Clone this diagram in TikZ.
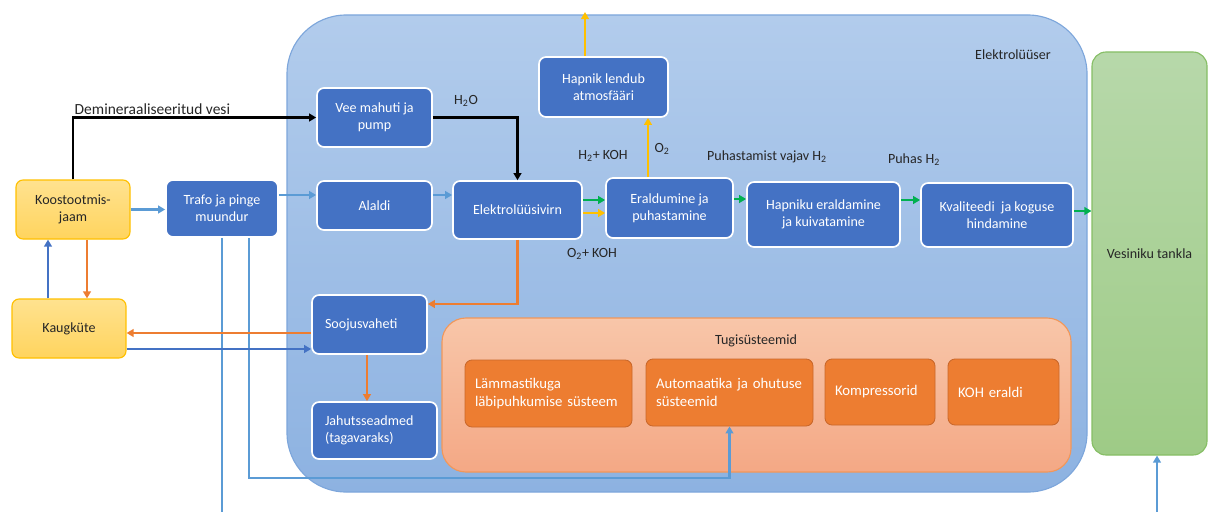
\documentclass[tikz,border=0pt]{standalone}
\usepackage{fontspec}
\setmainfont{Carlito}
\usetikzlibrary{positioning,calc,arrows.meta}

\definecolor{boxblue}{HTML}{4472C4}
\definecolor{lineblue}{HTML}{5B9BD5}
\definecolor{darkblue}{HTML}{4472C4}
\definecolor{lineorange}{HTML}{ED7D31}
\definecolor{lineyellow}{HTML}{FFC000}
\definecolor{linegreen}{HTML}{00B050}
\definecolor{suporange}{HTML}{ED7D31}
\definecolor{supline}{HTML}{C9672A}
\definecolor{elyltop}{HTML}{B2CCEC}
\definecolor{elylbot}{HTML}{8DB2E1}
\definecolor{elylline}{HTML}{7DA6DB}
\definecolor{tugitop}{HTML}{F8C6A9}
\definecolor{tugibot}{HTML}{F4A885}
\definecolor{tankltop}{HTML}{B7D8AA}
\definecolor{tanklbot}{HTML}{9ECB86}
\definecolor{tanklline}{HTML}{86BE65}
\definecolor{yeltop}{HTML}{FFE28F}
\definecolor{yelbot}{HTML}{FFD45E}

\newcommand{\pxu}{0.025cm}

\begin{document}
\begin{tikzpicture}[x=0.025cm, y=-0.025cm,
    font=\fontsize{10}{12}\selectfont,
    boxsize/.style 2 args={minimum width=#1*\pxu, minimum height=#2*\pxu},
    bluebox/.style={draw=white, line width=1.2pt, fill=boxblue, rounded corners=5pt, text=white, align=center, inner sep=2pt},
    yellowbox/.style={draw=lineyellow, line width=0.8pt, top color=yeltop, bottom color=yelbot, rounded corners=5pt, text=black!85, align=center},
    suppbox/.style={draw=supline, line width=0.6pt, fill=suporange, rounded corners=5pt, text=white, align=left, inner xsep=10*\pxu, font=\fontsize{10.5}{12.5}\selectfont},
    lbl/.style={text=black!85, inner sep=1pt},
    flow/.style={line width=1.6pt, -{Triangle[length=5pt,width=5.5pt]}}
]
    \useasboundingbox (0,0) rectangle (1208,512);

    % Background panels
    \node [draw=elylline, line width=0.8pt, top color=elyltop, bottom color=elylbot, rounded corners=42pt, boxsize={800}{477}] (elektr) at (687,253.5) {};
    \node [lbl] (elektrlbl) at (1013,55) {Elektrolüüser};
    \node [draw=tanklline, line width=0.8pt, top color=tankltop, bottom color=tanklbot, rounded corners=10pt, boxsize={115}{403}, text=black!85] (tankla) at (1149.5,253.5) {Vesiniku tankla};
    \node [draw=lineorange!80, line width=0.8pt, top color=tugitop, bottom color=tugibot, rounded corners=17pt, boxsize={629}{154}] (tugi) at (756.5,395) {};
    \node [lbl] (tugilbl) at (756,341) {Tugisüsteemid};

    % Outside boxes
    \node [yellowbox, boxsize={114}{59}] (koost) at (73,209.5) {Koostootmis-\\jaam};
    \node [yellowbox, boxsize={114}{59}] (kaug) at (69,328.5) {Kaugküte};
    \node [bluebox, boxsize={112}{57}] (trafo) at (222,208.5) {Trafo ja pinge\\muundur};

    % Electrolyser boxes
    \node [bluebox, boxsize={115}{59}] (vee) at (374.5,117.5) {Vee mahuti ja\\pump};
    \node [bluebox, boxsize={115}{49}] (alaldi) at (374.5,205.5) {Alaldi};
    \node [bluebox, boxsize={129}{58}] (elvirn) at (517.5,210) {Elektrolüüsivirn};
    \node [bluebox, boxsize={129}{60}] (hapnik) at (603.5,87) {Hapnik lendub\\atmosfääri};
    \node [bluebox, boxsize={127}{60}] (eraldu) at (669.5,208) {Eraldumine ja\\puhastamine};
    \node [bluebox, boxsize={153}{65}] (hapniku) at (823.5,214.5) {Hapniku eraldamine\\ja kuivatamine};
    \node [bluebox, boxsize={152}{64}] (kval) at (997,215) {Kvaliteedi~ ja koguse\\hindamine};
    \node [bluebox, boxsize={115}{59}, align=left, text width=89*\pxu, inner xsep=13*\pxu] (sooj) at (369.5,324.5) {Soojusvaheti};
    \node [bluebox, boxsize={125}{57}, align=left, text width=99*\pxu, inner xsep=13*\pxu] (jahut) at (374.5,430.5) {Jahutsseadmed\\(tagavaraks)};

    % Support systems
    \node [suppbox, minimum height=67*\pxu, text width=147*\pxu] (lamm) at (548.5,393.5) {Lämmastikuga\\läbipuhkumise süsteem};
    \node [suppbox, minimum height=67*\pxu, text width=147*\pxu] (auto) at (729.5,392.5) {Automaatika ja ohutuse\\süsteemid};
    \node [suppbox, minimum height=66*\pxu, text width=90*\pxu] (komp) at (880,392) {Kompressorid};
    \node [suppbox, minimum height=66*\pxu, text width=91*\pxu] (koh) at (1003.5,392) {KOH eraldi};

    % Free ends
    \coordinate (atmos) at (585,12);
    \coordinate (trafoout) at (222,512);
    \coordinate (tanklain) at (1157,512);

    % Water
    \draw [flow, black] (koost.north) |- (vee.west);
    \node [lbl, anchor=south west, font=\fontsize{11}{13}\selectfont] (demilbl) at (73,116) {Demineraaliseeritud vesi};
    \draw [flow, black] (vee.east) -| (elvirn.north);
    \node [lbl] (h2olbl) at (466,101) {H\textsubscript{2}O};

    % Electricity
    \draw [flow, lineblue] (koost.east) -- (trafo.west |- koost.east);
    \draw [flow, lineblue] (trafo.east |- 0,195) -- (alaldi.west |- 0,195);
    \draw [flow, lineblue] (alaldi.east |- 0,195) -- (elvirn.west |- 0,195);
    \draw [line width=1.6pt, lineblue] (trafo.south) -- (trafoout);
    \draw [flow, lineblue] (trafo.south -| 249,0) |- (auto.south |- 0,478) -- (auto.south);
    \draw [flow, lineblue] (tanklain) -- (tankla.south -| tanklain);

    % Gas flows
    \draw [flow, linegreen] (elvirn.east |- 0,200) -- (eraldu.west |- 0,200);
    \draw [flow, lineyellow] (elvirn.east |- 0,213) -- (eraldu.west |- 0,213);
    \node [lbl] (h2kohlbl) at (603,156) {H\textsubscript{2}+ KOH};
    \node [lbl] (o2kohlbl) at (592,254) {O\textsubscript{2}+ KOH};
    \draw [flow, lineyellow] (eraldu.north -| 648,0) -- (hapnik.south -| 648,0);
    \node [lbl] (o2lbl) at (662,149) {O\textsubscript{2}};
    \draw [flow, lineyellow] (hapnik.north -| atmos) -- (atmos);
    \draw [flow, linegreen] (eraldu.east |- 0,199) -- (hapniku.west |- 0,199);
    \node [lbl] (vajavlbl) at (767,157) {Puhastamist vajav H\textsubscript{2}};
    \draw [flow, linegreen] (hapniku.east |- 0,200) -- (kval.west |- 0,200);
    \node [lbl] (puhaslbl) at (914,160) {Puhas H\textsubscript{2}};
    \draw [flow, linegreen] (kval.east |- 0,211) -- (tankla.west |- 0,211);

    % Heat
    \draw [flow, lineorange] (elvirn.south) |- (sooj.east |- 0,304);
    \draw [flow, lineorange] (sooj.west |- 0,333) -- (kaug.east |- 0,333);
    \draw [flow, darkblue] (kaug.east |- 0,349) -- (sooj.west |- 0,349);
    \draw [flow, lineorange] (sooj.south -| 367,0) -- (jahut.north -| 367,0);
    \draw [flow, darkblue] (kaug.north -| 48,0) -- (koost.south -| 48,0);
    \draw [flow, lineorange] (koost.south -| 87,0) -- (kaug.north -| 87,0);
\end{tikzpicture}
\end{document}
